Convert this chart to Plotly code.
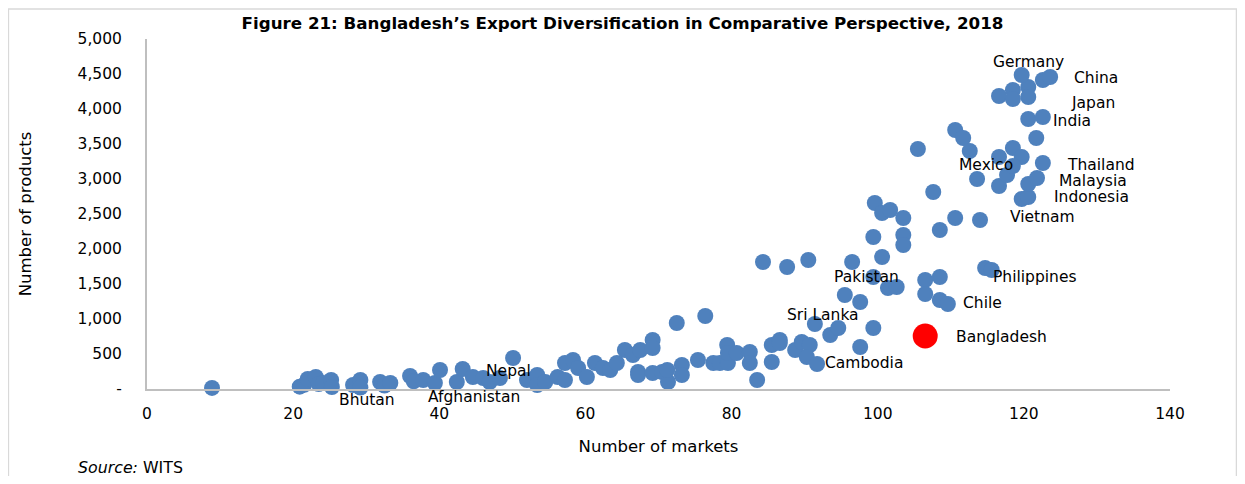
import plotly.graph_objects as go

# number of markets / number of products for each country (blue dots)
markets = [
    8.9, 20.9, 21.5, 22.0, 23.1, 23.5, 24.1, 25.2, 25.3, 28.2, 29.2, 29.2, 31.9, 32.5, 33.3,
    36.0, 36.5, 37.8, 39.4, 40.1, 42.4, 43.2, 44.6, 46.0, 46.9, 48.3, 50.1, 52.0, 53.4, 53.4,
    54.5, 56.2, 57.2, 57.2, 58.3, 59.0, 60.2, 61.3, 62.4, 63.4, 64.3, 65.4, 66.5, 67.5, 67.2,
    67.2, 69.2, 69.2, 69.2, 70.5, 71.3, 71.2, 72.5, 73.2, 73.2, 75.4, 76.4, 77.5, 78.4, 79.5,
    79.4, 79.5, 80.7, 82.5, 82.5, 83.5, 85.5, 85.5, 86.6, 86.6, 88.7, 89.6, 90.7, 90.3, 91.7,
    91.4, 93.5, 94.6, 97.6, 99.4, 84.3, 87.6, 90.5, 96.5, 99.4, 101.4, 102.6, 95.5, 97.6,
    106.5, 108.5, 106.5, 108.5, 109.6, 99.6, 100.6, 101.7, 103.5, 99.4, 103.5, 103.5, 100.6,
    107.6, 108.5, 110.6, 114.0, 105.5, 110.6, 111.7, 112.6, 113.6, 116.6, 117.7, 116.6,
    118.5, 119.7, 118.5, 119.7, 120.6, 120.6, 121.8, 122.6, 121.7, 120.6, 122.6, 116.6,
    118.5, 118.5, 120.6, 120.6, 119.7, 122.6, 123.6, 114.7, 115.6,
]
products = [
    15, 33, 60, 143, 171, 70, 86, 129, 29, 57, 129, 20, 100, 50, 86,
    186, 110, 129, 86, 271, 100, 286, 171, 157, 100, 157, 443, 129, 200, 57,
    100, 171, 129, 371, 414, 300, 171, 371, 300, 271, 371, 557, 486, 557, 243,
    200, 700, 586, 229, 243, 100, 271, 943, 343, 200, 414, 1043, 371, 371, 371,
    629, 514, 514, 529, 371, 129, 629, 386, 700, 657, 557, 671, 629, 457, 357,
    929, 771, 871, 600, 871, 1814, 1743, 1843, 1814, 1600, 1443, 1457, 1343, 1243,
    1557, 1600, 1357, 1271, 1214, 2657, 2514, 2557, 2443, 2171, 2200, 2057, 1886,
    2814, 2271, 2443, 2414, 3429, 3700, 3586, 3400, 3000, 2900, 3057, 3314,
    3443, 3314, 3186, 2714, 2743, 2929, 3014, 3229, 3586, 3857, 3886, 4186,
    4271, 4143, 4314, 4171, 4486, 4414, 4457, 1729, 1700,
]

bgd_markets = [106.5]
bgd_products = [757]

# country labels (text, x, y)
label_text = ["Germany", "China", "Japan", "India", "Thailand", "Malaysia", "Indonesia",
              "Vietnam", "Mexico", "Philippines", "Chile", "Bangladesh", "Pakistan",
              "Sri Lanka", "Cambodia", "Nepal", "Afghanistan", "Bhutan"]
label_x = [120.7, 129.9, 129.5, 126.6, 130.6, 129.5, 129.3, 122.5, 114.8, 121.5, 114.4,
           116.9, 98.4, 92.5, 98.1, 49.5, 44.8, 30.1]
label_y = [4671, 4443, 4086, 3829, 3200, 2971, 2743, 2457, 3200, 1600, 1229, 743, 1600,
           1057, 371, 257, -115, -157]

y_ticks = [0, 500, 1000, 1500, 2000, 2500, 3000, 3500, 4000, 4500, 5000]
y_tick_text = ["-", "500", "1,000", "1,500", "2,000", "2,500", "3,000", "3,500",
               "4,000", "4,500", "5,000"]
Y_MAX = 5000

FONT = "DejaVu Sans"
FS = 15.5

fig = go.Figure()
fig.add_trace(go.Scatter(
    x=markets, y=products, mode="markers",
    marker=dict(size=16, color="#4F81BD"),
    cliponaxis=False, showlegend=False, hoverinfo="x+y",
))
fig.add_trace(go.Scatter(
    x=bgd_markets, y=bgd_products, mode="markers",
    marker=dict(size=25, color="#FF0000"),
    cliponaxis=False, showlegend=False, hoverinfo="x+y",
))

# labels: y given in paper units so the ones below the x axis are not hidden
for t, x, y in zip(label_text, label_x, label_y):
    fig.add_annotation(x=x, y=y / Y_MAX, xref="x", yref="paper", text=t,
                       showarrow=False, xanchor="center", yanchor="middle",
                       font=dict(family=FONT, size=FS, color="#000000"))

# page body has an 8px margin, so the figure is sized to fit inside the window
fig.update_layout(
    width=1229, height=468,
    margin=dict(l=139, r=67, t=31, b=87),
    paper_bgcolor="white", plot_bgcolor="white",
    font=dict(family=FONT, size=FS, color="#000000"),
    title=dict(
        text="<b>Figure 21: Bangladesh\u2019s Export Diversification in Comparative Perspective, 2018</b>",
        x=0.5, xanchor="center", y=0.968, yanchor="middle",
        font=dict(family=FONT, size=16.7, color="#000000"),
    ),
    xaxis=dict(
        range=[0, 140], tickvals=list(range(0, 141, 20)),
        showgrid=False, zeroline=False, showline=True, linecolor="#BFBFBF", linewidth=2,
        ticks="", ticklabelstandoff=9, tickfont=dict(size=FS),
        title=dict(text="Number of markets", standoff=19, font=dict(size=16.5)),
    ),
    yaxis=dict(
        range=[0, Y_MAX], tickvals=y_ticks, ticktext=y_tick_text,
        showgrid=False, zeroline=False, showline=True, linecolor="#BFBFBF", linewidth=2,
        ticks="", ticklabelstandoff=20, tickfont=dict(size=FS),
        title=dict(text="Number of products", standoff=42, font=dict(size=16.5)),
    ),
)

fig.add_annotation(
    xref="paper", yref="paper", x=-0.0694, y=-0.2229, xanchor="left", yanchor="middle",
    text="<i>Source:</i> WITS", showarrow=False,
    font=dict(family=FONT, size=15.8, color="#000000"),
)

# outer chart border
fig.add_shape(type="rect", xref="paper", yref="paper",
              x0=-0.1355, x1=1.065, y0=-0.3, y1=1.086,
              line=dict(color="#D9D9D9", width=1.5), layer="below")

fig.write_html("out.html")
